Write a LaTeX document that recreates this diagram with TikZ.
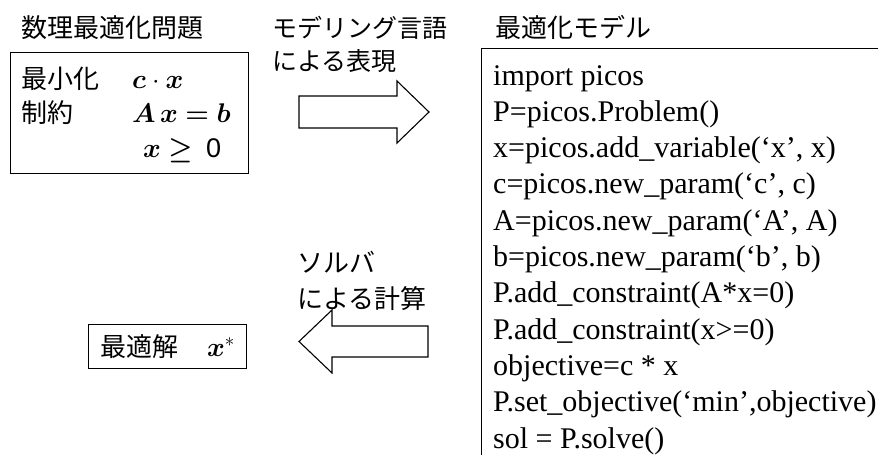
\RequirePackage{fix-cm}
\documentclass[tikz,border=0pt]{standalone}
\usepackage{amsmath,bm}
\usepackage{fontspec}
\setmainfont{Liberation Serif}
\newfontfamily\jp{Noto Sans CJK JP}
\newfontfamily\digitfont{Liberation Sans}
\tikzset{
  jpt/.style={font=\jp\fontsize{26}{30}\selectfont, inner sep=0pt, anchor=base west},
  jpl/.style={font=\jp\fontsize{25}{30}\selectfont, inner sep=0pt, anchor=base west},
  mth/.style={font=\fontsize{27}{32}\selectfont, inner sep=0pt, anchor=base west},
  codeline/.style={font=\fontsize{30}{34}\selectfont, inner sep=0pt, anchor=base west},
  frame/.style={draw, line width=1.1pt, inner sep=0pt, anchor=north west},
  bigarrow/.style={draw, line width=1.1pt, line join=miter, fill=white}
}
\begin{document}
\begin{tikzpicture}[x=1pt,y=-1pt]
\useasboundingbox (0,0) rectangle (878,455);
\clip (0,0) rectangle (878,455);
% titles
\node[jpt] (t1) at (21,37) {数理最適化問題};
\node[jpl] (t2) at (272,37) {モデリング言語};
\node[jpl] (t2b) at (272,70) {による表現};
\node[jpt] (t3) at (495,37) {最適化モデル};
\node[jpt] (t4) at (297,272) {ソルバ};
\node[jpt] (t4b) at (297,308) {による計算};
% problem box
\node[frame, minimum width=238pt, minimum height=121pt] (prob) at (10,52) {};
\node[jpt] (p1) at (21,88) {最小化};
\node[mth] (p1m) at (132,88) {$\bm{c}\cdot\bm{x}$};
\node[jpt] (p2) at (21,122) {制約};
\node[mth] (p2m) at (132,122) {$\bm{A}\,\bm{x}\bm{=}\bm{b}$};
\node[mth] (p3m) at (143,157) {$\bm{x}\bm{\geq}$\ \ {\digitfont 0}};
% solution box
\node[frame, minimum width=158pt, minimum height=44pt] (sol) at (88,324) {};
\node[jpt] (s1) at (100,356) {最適解};
\node[mth] (s1m) at (207,356) {$\bm{x}^{*}$};
% arrows
\draw[bigarrow] (299,96) -- (397,96) -- (397,81) -- (429,112) -- (397,143) -- (397,128) -- (299,128) -- cycle;
\draw[bigarrow] (428,326) -- (332,326) -- (332,310) -- (299,341.5) -- (332,373) -- (332,357) -- (428,357) -- cycle;
% model box
\node[frame, minimum width=450pt, minimum height=450pt] (model) at (481,48) {};
\node[codeline] (c1) at (493,85.0) {import picos};
\node[codeline] (c2) at (493,121.3) {P=picos.Problem()};
\node[codeline] (c3) at (493,157.6) {x=picos.add\_variable(‘x’, x)};
\node[codeline] (c4) at (493,193.9) {c=picos.new\_param(‘c’, c)};
\node[codeline] (c5) at (493,230.2) {A=picos.new\_param(‘A’, A)};
\node[codeline] (c6) at (493,266.5) {b=picos.new\_param(‘b’, b)};
\node[codeline] (c7) at (493,302.8) {P.add\_constraint(A*x=0)};
\node[codeline] (c8) at (493,339.1) {P.add\_constraint(x>=0)};
\node[codeline] (c9) at (493,375.4) {objective=c * x};
\node[codeline] (c10) at (493,411.7) {P.set\_objective(‘min’,objective)};
\node[codeline] (c11) at (493,448.0) {sol = P.solve()};
\end{tikzpicture}
\end{document}
